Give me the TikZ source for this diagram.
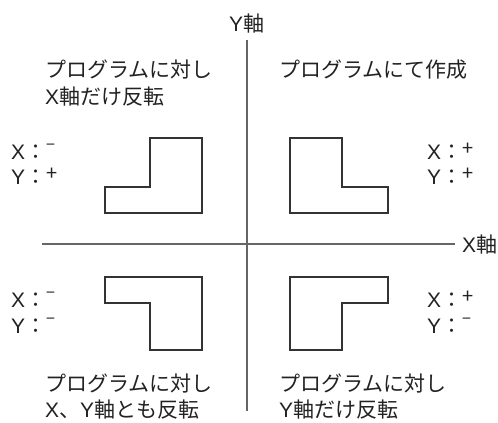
\documentclass[tikz,border=0pt]{standalone}
\usepackage{fontspec}
\setmainfont{Noto Sans CJK JP}
\newfontfamily\latinfont{Liberation Sans}
\newcommand{\lat}[1]{{\latinfont #1}}
\definecolor{txt}{HTML}{222222}
\definecolor{axis}{HTML}{666666}
\definecolor{shape}{HTML}{333333}
\newcommand{\sgnminus}{\raisebox{0.40em}{\fontsize{16}{16}\selectfont −}}
\newcommand{\sgnplus}{\raisebox{0.18em}{\fontsize{20}{20}\selectfont +}}
\begin{document}
\begin{tikzpicture}[x=1pt,y=-1pt,
  lbl/.style={inner sep=0pt,anchor=base west,text=txt,font=\fontsize{21}{27}\selectfont,align=left},
  axisline/.style={draw=axis,line width=1.5pt},
  part/.style={draw=shape,line width=1.1pt,line join=miter}]
\useasboundingbox (0,0) rectangle (498,423);
% axes
\coordinate (ytop) at (247,40);
\coordinate (ybot) at (247,411);
\coordinate (xl) at (42,244);
\coordinate (xr) at (455,244);
\draw[axisline] (ytop) -- (ybot);
\draw[axisline] (xl) -- (xr);
\node[lbl] (ylab) at (229,31) {\lat{Y}軸};
\node[lbl] (xlab) at (462,252) {\lat{X}軸};
% quadrant captions
\node[lbl] (tl) at (45,77) {プログラムに対し};
\node[lbl] (tl2) at (45,104) {\lat{X}軸だけ反転};
\node[lbl] (tr) at (279,77) {プログラムにて作成};
\node[lbl] (bl) at (45,391) {プログラムに対し};
\node[lbl] (bl2) at (45,417) {\lat{X}、\lat{Y}軸とも反転};
\node[lbl] (br) at (279,391) {プログラムに対し};
\node[lbl] (br2) at (279,417) {\lat{Y}軸だけ反転};
% sign labels
\node[lbl] (tlx) at (11,159) {\lat{X}：\sgnminus};
\node[lbl] (tly) at (11,184) {\lat{Y}：\sgnplus};
\node[lbl] (trx) at (427,159) {\lat{X}：\sgnplus};
\node[lbl] (try) at (427,184) {\lat{Y}：\sgnplus};
\node[lbl] (blx) at (11,307) {\lat{X}：\sgnminus};
\node[lbl] (bly) at (11,333) {\lat{Y}：\sgnminus};
\node[lbl] (brx) at (427,307) {\lat{X}：\sgnplus};
\node[lbl] (bry) at (427,333) {\lat{Y}：\sgnminus};
% shapes
\draw[part] (150,138) -- (202,138) -- (202,213) -- (105,213) -- (105,187) -- (150,187) -- cycle;
\draw[part] (290,138) -- (342,138) -- (342,187) -- (388,187) -- (388,213) -- (290,213) -- cycle;
\draw[part] (105,277) -- (202,277) -- (202,350) -- (150,350) -- (150,303) -- (105,303) -- cycle;
\draw[part] (290,277) -- (388,277) -- (388,303) -- (342,303) -- (342,350) -- (290,350) -- cycle;
\end{tikzpicture}
\end{document}
